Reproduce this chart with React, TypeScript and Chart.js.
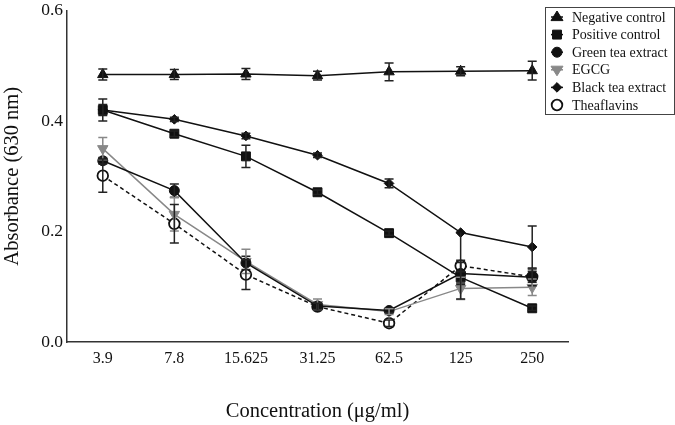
import React, { useEffect, useRef } from "react";
import { Chart, registerables } from "chart.js";

Chart.register(...registerables);

const categories = ["3.9", "7.8", "15.625", "31.25", "62.5", "125", "250"];

const negativeControl = [0.484, 0.484, 0.485, 0.482, 0.489, 0.490, 0.491];
const negativeErr = [0.010, 0.009, 0.010, 0.008, 0.016, 0.008, 0.017];

const positiveControl = [0.420, 0.377, 0.336, 0.271, 0.197, 0.117, 0.061];
const positiveErr = [0.020, 0.005, 0.020, 0.004, 0.004, 0.010, 0.004];

const greenTea = [0.328, 0.274, 0.143, 0.065, 0.057, 0.124, 0.117];
const greenErr = [0.006, 0.012, 0.012, 0.006, 0.004, 0.020, 0.015];

const egcg = [0.350, 0.231, 0.146, 0.068, 0.055, 0.097, 0.099];
const egcgErr = [0.020, 0.030, 0.022, 0.010, 0.005, 0.020, 0.015];

const blackTea = [0.420, 0.403, 0.373, 0.338, 0.287, 0.198, 0.172];
const blackErrLow = [0.010, 0.004, 0.005, 0.004, 0.008, 0.120, 0.038];
const blackErrHigh = [0.010, 0.004, 0.005, 0.004, 0.008, 0.000, 0.038];

const theaflavins = [0.301, 0.214, 0.122, 0.064, 0.034, 0.138, 0.118];
const theaErr = [0.030, 0.035, 0.027, 0.006, 0.006, 0.010, 0.010];

const yTicks = [0, 0.2, 0.4, 0.6];

const SERIF = "'Liberation Serif', 'Times New Roman', serif";

function drawMarker(ctx: any, style: string, x: number, y: number, r: number, rot: number) {
  ctx.save();
  ctx.translate(x, y);
  ctx.rotate((rot * Math.PI) / 180);
  ctx.beginPath();
  if (style === "triangle") {
    ctx.moveTo(0, -r);
    ctx.lineTo(r * 1.0, r * 0.6);
    ctx.lineTo(-r * 1.0, r * 0.6);
    ctx.closePath();
  } else if (style === "rect") {
    const s = r * Math.SQRT1_2;
    ctx.rect(-s, -s, 2 * s, 2 * s);
  } else if (style === "rectRot") {
    const s = r;
    ctx.moveTo(0, -s);
    ctx.lineTo(s, 0);
    ctx.lineTo(0, s);
    ctx.lineTo(-s, 0);
    ctx.closePath();
  } else {
    ctx.arc(0, 0, r, 0, Math.PI * 2);
  }
  ctx.fill();
  ctx.stroke();
  ctx.restore();
}

const errorBarPlugin = {
  id: "errorBars",
  afterDatasetsDraw(chart: any) {
    const ctx = chart.ctx;
    const y = chart.scales.y;
    chart.data.datasets.forEach((ds: any, i: number) => {
      const meta = chart.getDatasetMeta(i);
      ctx.save();
      ctx.strokeStyle = ds.errColor || "#111";
      ctx.lineWidth = 1.5;
      meta.data.forEach((pt: any, j: number) => {
        const v = ds.data[j];
        const lo = ds.errLow[j];
        const hi = ds.errHigh[j];
        const x = pt.x;
        const yTop = y.getPixelForValue(v + hi);
        const yBot = y.getPixelForValue(v - lo);
        const yMid = y.getPixelForValue(v);
        const cap = 4.5;
        ctx.beginPath();
        if (hi > 0) {
          ctx.moveTo(x, yMid);
          ctx.lineTo(x, yTop);
          ctx.moveTo(x - cap, yTop);
          ctx.lineTo(x + cap, yTop);
        }
        if (lo > 0) {
          ctx.moveTo(x, yMid);
          ctx.lineTo(x, yBot);
          ctx.moveTo(x - cap, yBot);
          ctx.lineTo(x + cap, yBot);
        }
        ctx.stroke();
      });
      ctx.restore();
    });
  },
};

const legendPlugin = {
  id: "boxLegend",
  afterDraw(chart: any) {
    const ctx = chart.ctx;
    const bx = 545, by = 7, bw = 129, bh = 107;
    ctx.save();
    ctx.fillStyle = "#fff";
    ctx.fillRect(bx, by, bw, bh);
    ctx.strokeStyle = "#444";
    ctx.lineWidth = 1;
    ctx.strokeRect(bx + 0.5, by + 0.5, bw, bh);
    ctx.font = "14px " + SERIF;
    ctx.textBaseline = "middle";
    chart.data.datasets.forEach((ds: any, i: number) => {
      const cy = 17 + i * 17.6;
      const mx = 557;
      ctx.strokeStyle = ds.borderColor;
      ctx.lineWidth = 1.5;
      ctx.setLineDash([]);
      ctx.beginPath();
      ctx.moveTo(mx - 6, cy);
      ctx.lineTo(mx + 6, cy);
      ctx.stroke();
      ctx.fillStyle = ds.pointBackgroundColor;
      ctx.strokeStyle = ds.pointBorderColor;
      ctx.lineWidth = ds.pointBorderWidth || 1;
      drawMarker(ctx, ds.pointStyle, mx, cy, ds.pointRadius, ds.pointRotation || 0);
      ctx.fillStyle = "#111";
      ctx.fillText(ds.label, 572, cy + 1);
    });
    ctx.restore();
  },
};

export default function App() {
  const ref = useRef<HTMLCanvasElement>(null);
  useEffect(() => {
    if (!ref.current) return;
    const mk = (
      label: string,
      data: number[],
      errLow: number[],
      errHigh: number[],
      color: string,
      style: string,
      radius: number,
      extra: any = {}
    ) => ({
      label,
      data,
      errLow,
      errHigh,
      errColor: color === "#888" ? "#888" : "#222",
      borderColor: color,
      backgroundColor: color,
      pointBackgroundColor: color,
      pointBorderColor: color,
      pointBorderWidth: 1,
      pointStyle: style,
      pointRadius: radius,
      borderWidth: 1.5,
      tension: 0,
      fill: false,
      ...extra,
    });
    const chart = new Chart(ref.current, {
      type: "line",
      data: {
        labels: categories,
        datasets: [
          mk("Negative control", negativeControl, negativeErr, negativeErr, "#111", "triangle", 6),
          mk("Positive control", positiveControl, positiveErr, positiveErr, "#111", "rect", 6.3),
          mk("Green tea extract", greenTea, greenErr, greenErr, "#111", "circle", 5),
          mk("EGCG", egcg, egcgErr, egcgErr, "#888", "triangle", 6, { pointRotation: 180 }),
          mk("Black tea extract", blackTea, blackErrLow, blackErrHigh, "#111", "rectRot", 4.8),
          mk("Theaflavins", theaflavins, theaErr, theaErr, "#111", "circle", 5.3, {
            pointBackgroundColor: "#fff",
            pointBorderWidth: 1.8,
            borderDash: [4, 3],
          }),
        ] as any,
      },
      options: {
        animation: false,
        responsive: false,
        maintainAspectRatio: false,
        layout: { padding: { top: 7, right: 107, left: 0, bottom: 0 } },
        plugins: {
          legend: { display: false },
          tooltip: { enabled: false },
        },
        scales: {
          x: {
            type: "category",
            offset: true,
            grid: { display: false, drawTicks: false },
            border: { color: "#333", width: 1.5 },
            ticks: {
              color: "#111",
              font: { family: SERIF, size: 16 },
              padding: 7,
              maxRotation: 0,
            },
            title: {
              display: true,
              text: "Concentration (μg/ml)",
              color: "#111",
              font: { family: SERIF, size: 20.5 },
              padding: { top: 0, bottom: 1 },
            },
            afterFit(scale: any) {
              scale.height = 83;
            },
          },
          y: {
            min: 0,
            max: 0.6,
            grid: { display: false, drawTicks: true, tickLength: 4, tickColor: "#333", tickWidth: 1.5 },
            border: { color: "#333", width: 1.5 },
            afterBuildTicks(scale: any) {
              scale.ticks = yTicks.map((v) => ({ value: v }));
            },
            ticks: {
              color: "#111",
              font: { family: SERIF, size: 17.5 },
              padding: 0,
              callback: (v: any) => Number(v).toFixed(1),
            },
            title: {
              display: true,
              text: "Absorbance (630 nm)",
              color: "#111",
              font: { family: SERIF, size: 20.5 },
              padding: { top: 0, bottom: 2 },
            },
            afterFit(scale: any) {
              scale.width = 67;
            },
          },
        },
      } as any,
      plugins: [errorBarPlugin, legendPlugin],
    });
    return () => chart.destroy();
  }, []);
  return (
    <div style={{ position: "fixed", left: 0, top: 0, width: 675, height: 425, background: "#fff" }}>
      <canvas ref={ref} width={675} height={425} style={{ width: 675, height: 425 }} />
    </div>
  );
}
